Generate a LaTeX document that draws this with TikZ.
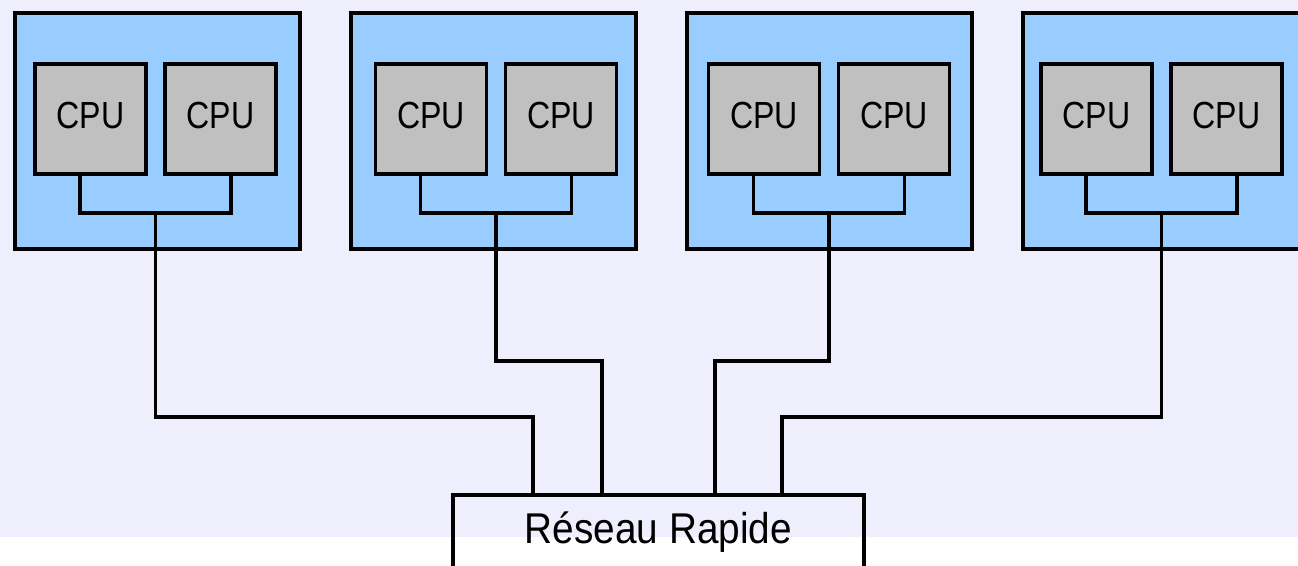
\documentclass[tikz,border=0pt]{standalone}
\usepackage{fontspec}
\setmainfont{Liberation Sans}[FakeStretch=0.9]
\newfontfamily\cpufont{Liberation Sans}[FakeStretch=0.85]
\usetikzlibrary{calc}
\definecolor{fond}{RGB}{238,238,252}
\definecolor{noeud}{RGB}{153,204,255}
\definecolor{proc}{RGB}{192,192,192}

\begin{document}
\begin{tikzpicture}[line width=2pt,
  machine/.style={rectangle,draw=black,fill=noeud,minimum width=5.7cm,minimum height=4.72cm},
  cpu/.style={rectangle,draw=black,fill=proc,minimum width=2.22cm,minimum height=2.2cm,inner sep=0pt,text depth=0.16cm,font=\cpufont\fontsize{21.5}{25}\selectfont},
  reseau/.style={rectangle,draw=black,anchor=north,minimum width=8.22cm,inner ysep=0.37cm,text height=0.6cm,text depth=1.5cm,font=\fontsize{24.5}{29}\selectfont}]
\useasboundingbox (0,0) rectangle (25.96,11.32);
\clip (0,0) rectangle (25.96,11.32);
\fill[fond] (0,0.58) rectangle (25.96,11.32);

% quatre noeuds bi-processeurs
\foreach \i/\x/\b in {1/3.15/3.11,2/9.87/9.92,3/16.59/16.58,4/23.31/23.23}{
  \node (m\i) at (\x,8.7)[machine]{};
  \coordinate (b\i) at (\b,7.06);
  \node (c\i a) at (\b-1.3,8.94)[cpu]{CPU};
  \node (c\i b) at (\b+1.3,8.94)[cpu]{CPU};
  \draw ([xshift=-0.21cm]c\i a.south) |- (b\i) -| ([xshift=0.21cm]c\i b.south);
}

% le reseau
\node (net) at (13.17,1.46)[reseau]{Réseau Rapide};
\coordinate (e1) at ($(net.north)+(-2.51,0)$);
\coordinate (e2) at ($(net.north)+(-1.13,0)$);
\coordinate (e3) at ($(net.north)+(1.13,0)$);
\coordinate (e4) at ($(net.north)+(2.47,0)$);

\draw (b1) |- ([yshift=1.52cm]e1) -- (e1);
\draw (b2) |- ([yshift=2.64cm]e2) -- (e2);
\draw (b3) |- ([yshift=2.64cm]e3) -- (e3);
\draw (b4) |- ([yshift=1.52cm]e4) -- (e4);
\end{tikzpicture}
\end{document}
